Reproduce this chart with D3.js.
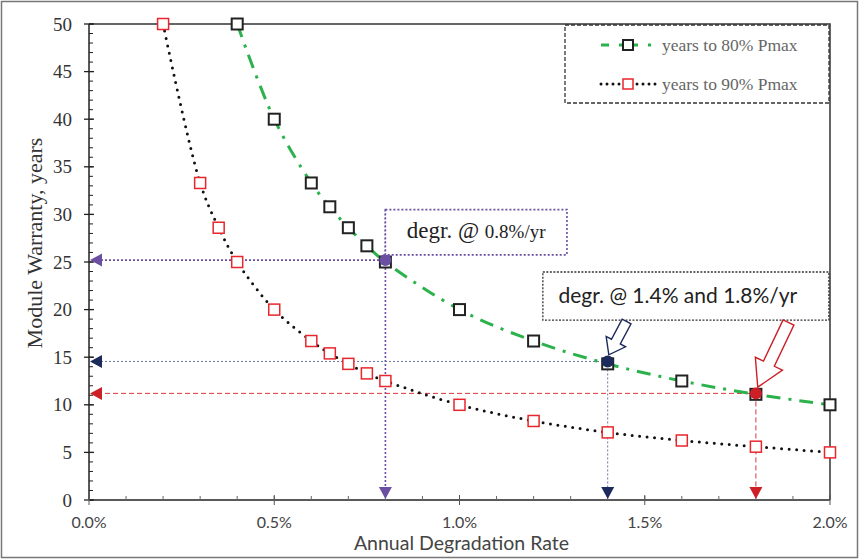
<!DOCTYPE html>
<html>
<head>
<meta charset="utf-8">
<script src="https://cdn.jsdelivr.net/npm/d3@7"></script>
<style>
  body { margin: 0; background: #fff; }
  svg { display: block; }
</style>
</head>
<body>
<svg id="chart" width="859" height="559"></svg>
<script>
// degradation rate (%/yr) and years to reach 80% / 90% of Pmax
var rates80 = [0.4, 0.5, 0.6, 0.65, 0.7, 0.75, 0.8, 1.0, 1.2, 1.4, 1.6, 1.8, 2.0]
var years80 = [50, 40, 33.3, 30.8, 28.6, 26.7, 25, 20, 16.7, 14.3, 12.5, 11.1, 10]
var rates90 = [0.2, 0.3, 0.35, 0.4, 0.5, 0.6, 0.65, 0.7, 0.75, 0.8, 1.0, 1.2, 1.4, 1.6, 1.8, 2.0]
var years90 = [50, 33.3, 28.6, 25, 20, 16.7, 15.4, 14.3, 13.3, 12.5, 10, 8.3, 7.1, 6.25, 5.6, 5]
var xTicks = [0, 0.5, 1.0, 1.5, 2.0]
var yTicks = [0, 5, 10, 15, 20, 25, 30, 35, 40, 45, 50]
// highlighted points: rate, years, colour
var marks = [
  { rate: 0.8, years: 25.2, color: "#6a4fa3", lineColor: "#6a4fa3", dash: "2,2", width: 1.6 },
  { rate: 1.4, years: 14.55, color: "#1d2b5c", lineColor: "#5a6896", dash: "2,2", width: 0.9 },
  { rate: 1.8, years: 11.2, color: "#cc1f26", lineColor: "#d9363c", dash: "5,3", width: 1 }
]

var svg = d3.select("#chart")
var pLeft = 89, pRight = 830, pTop = 24, pBottom = 500

var x = d3.scaleLinear().domain([0, 2.0]).range([pLeft, pRight])
var y = d3.scaleLinear().domain([0, 50]).range([pBottom, pTop])

// outer frame
svg.append("rect").attr("x", 1.5).attr("y", 1.5).attr("width", 856).attr("height", 556)
  .attr("fill", "none").attr("stroke", "#777").attr("stroke-width", 1.5)

// plot frame (top + right)
svg.append("path")
  .attr("d", "M" + pLeft + "," + pTop + "H" + pRight + "V" + pBottom)
  .attr("fill", "none").attr("stroke", "#333").attr("stroke-width", 1.5)

// y axis
var yAxis = svg.append("g").attr("transform", "translate(" + pLeft + ",0)")
yAxis.append("line").attr("y1", pTop).attr("y2", pBottom).attr("stroke", "#222").attr("stroke-width", 1.5)
yAxis.selectAll(".minor").data(d3.range(0, 51)).enter().append("line")
  .attr("x1", 0).attr("x2", 4).attr("y1", function(d) { return y(d) }).attr("y2", function(d) { return y(d) })
  .attr("stroke", "#222").attr("stroke-width", 1)
yAxis.selectAll(".major").data(yTicks).enter().append("line")
  .attr("x1", -5).attr("x2", 5).attr("y1", function(d) { return y(d) }).attr("y2", function(d) { return y(d) })
  .attr("stroke", "#222").attr("stroke-width", 1.3)
yAxis.selectAll("text").data(yTicks).enter().append("text")
  .attr("x", -17).attr("y", function(d) { return y(d) })
  .attr("dy", "0.35em").attr("text-anchor", "end")
  .style("font-family", "'Liberation Serif', serif").style("font-size", "19px").attr("fill", "#333")
  .text(function(d) { return d })

svg.append("text")
  .attr("transform", "translate(42,243) rotate(-90)")
  .attr("text-anchor", "middle")
  .style("font-family", "'Liberation Serif', serif").style("font-size", "22px").attr("fill", "#333")
  .text("Module Warranty, years")

// x axis
var xAxis = svg.append("g").attr("transform", "translate(0," + pBottom + ")")
xAxis.append("line").attr("x1", pLeft).attr("x2", pRight).attr("stroke", "#222").attr("stroke-width", 1.5)
xAxis.selectAll(".minor").data(d3.range(0, 21)).enter().append("line")
  .attr("x1", function(d) { return x(d / 10) }).attr("x2", function(d) { return x(d / 10) })
  .attr("y1", 0).attr("y2", -4).attr("stroke", "#666").attr("stroke-width", 1)
xAxis.selectAll(".major").data(xTicks).enter().append("line")
  .attr("x1", function(d) { return x(d) }).attr("x2", function(d) { return x(d) })
  .attr("y1", -5).attr("y2", 5).attr("stroke", "#555").attr("stroke-width", 1)
xAxis.selectAll("text").data(xTicks).enter().append("text")
  .attr("x", function(d) { return x(d) }).attr("y", 22)
  .attr("dy", "0.35em").attr("text-anchor", "middle")
  .style("font-family", "Lato, sans-serif").style("font-size", "16px").attr("fill", "#444")
  .text(function(d) { return d.toFixed(1) + "%" })

svg.append("text")
  .attr("x", (pLeft + pRight) / 2 + 2).attr("y", 543).attr("dy", "0.35em").attr("text-anchor", "middle")
  .style("font-family", "Lato, sans-serif").style("font-size", "19.5px").attr("fill", "#444")
  .text("Annual Degradation Rate")

// guide lines for the highlighted points
marks.forEach(function(m) {
  var g = svg.append("g")
  g.append("line").attr("x1", x(0) + 8).attr("x2", x(m.rate)).attr("y1", y(m.years)).attr("y2", y(m.years))
    .attr("stroke", m.lineColor).attr("stroke-width", m.width).attr("stroke-dasharray", m.dash)
  g.append("line").attr("x1", x(m.rate)).attr("x2", x(m.rate)).attr("y1", y(m.years)).attr("y2", y(0) - 8)
    .attr("stroke", m.lineColor).attr("stroke-width", m.width).attr("stroke-dasharray", m.dash)
  // triangles on the axes
  var tx = x(0), ty = y(m.years)
  g.append("path").attr("d", "M" + (tx + 1) + "," + ty + "L" + (tx + 13) + "," + (ty - 6.5) + "L" + (tx + 13) + "," + (ty + 6.5) + "Z")
    .attr("fill", m.color)
  var bx = x(m.rate), by = y(0)
  g.append("path").attr("d", "M" + bx + "," + (by - 1) + "L" + (bx - 6.5) + "," + (by - 13) + "L" + (bx + 6.5) + "," + (by - 13) + "Z")
    .attr("fill", m.color)
})
// purple vertical continues up to the note box
svg.append("line").attr("x1", x(0.8)).attr("x2", x(0.8)).attr("y1", y(30.5)).attr("y2", y(25.2))
  .attr("stroke", marks[0].color).attr("stroke-width", 1.6).attr("stroke-dasharray", "2,2")

// curves
var line = d3.line().curve(d3.curveCatmullRom.alpha(0.5))
  .x(function(d) { return x(d[0]) }).y(function(d) { return y(d[1]) })

var pts80 = d3.zip(rates80, years80)
var pts90 = d3.zip(rates90, years90)

svg.append("path").datum(pts90).attr("d", line)
  .attr("fill", "none").attr("stroke", "#111").attr("stroke-width", 3)
  .attr("stroke-linecap", "round").attr("stroke-dasharray", "0,7.5")

svg.append("path").datum(pts80).attr("d", line)
  .attr("fill", "none").attr("stroke", "#2bb24c").attr("stroke-width", 3)
  .attr("stroke-dasharray", "14,8,3,8")

// markers
var sq = 11
svg.selectAll(".m90").data(pts90).enter().append("rect")
  .attr("x", function(d) { return x(d[0]) - sq / 2 }).attr("y", function(d) { return y(d[1]) - sq / 2 })
  .attr("width", sq).attr("height", sq).attr("fill", "#fff").attr("stroke", "#e8262d").attr("stroke-width", 1.5)
svg.selectAll(".m80").data(pts80).enter().append("rect")
  .attr("x", function(d) { return x(d[0]) - sq / 2 }).attr("y", function(d) { return y(d[1]) - sq / 2 })
  .attr("width", sq).attr("height", sq).attr("fill", "#fff").attr("stroke", "#222").attr("stroke-width", 2)

// highlighted points
svg.selectAll(".hl").data(marks).enter().append("circle")
  .attr("cx", function(d) { return x(d.rate) }).attr("cy", function(d) { return y(d.years) })
  .attr("r", 6).attr("fill", function(d) { return d.color })

// note boxes
svg.append("rect").attr("x", x(0.8)).attr("y", y(30.5)).attr("width", x(1.29) - x(0.8)).attr("height", y(25.75) - y(30.5))
  .attr("fill", "#fff").attr("stroke", "#6a4fa3").attr("stroke-width", 1.6).attr("stroke-dasharray", "2,2")
var note1 = svg.append("text").attr("x", (x(0.8) + x(1.29)) / 2).attr("y", y(28.1)).attr("dy", "0.35em").attr("text-anchor", "middle")
  .style("font-family", "'Liberation Serif', serif").attr("fill", "#222")
note1.append("tspan").style("font-size", "23px").text("degr. @ ")
note1.append("tspan").style("font-size", "19px").text("0.8%/yr")

svg.append("rect").attr("x", x(1.225)).attr("y", y(23.95)).attr("width", x(1.997) - x(1.225)).attr("height", y(18.9) - y(23.95))
  .attr("fill", "#fff").attr("stroke", "#333").attr("stroke-width", 1.3).attr("stroke-dasharray", "2,1.5")
svg.append("text").attr("x", (x(1.225) + x(1.997)) / 2 - 8).attr("y", y(21.5)).attr("dy", "0.35em").attr("text-anchor", "middle")
  .style("font-family", "Lato, sans-serif").style("font-size", "21px").attr("fill", "#222")
  .text("degr. @ 1.4% and 1.8%/yr")

// block arrows from the box to the points
function blockArrow(x1, y1, x2, y2, shaft, head, hl) {
  var dx = x2 - x1, dy = y2 - y1, len = Math.sqrt(dx * dx + dy * dy)
  var ux = dx / len, uy = dy / len, nx = -uy, ny = ux
  var bx = x2 - ux * hl, by = y2 - uy * hl
  var p = [
    [x1 + nx * shaft, y1 + ny * shaft], [bx + nx * shaft, by + ny * shaft], [bx + nx * head, by + ny * head],
    [x2, y2], [bx - nx * head, by - ny * head], [bx - nx * shaft, by - ny * shaft], [x1 - nx * shaft, y1 - ny * shaft]
  ]
  return "M" + p.map(function(q) { return q[0] + "," + q[1] }).join("L") + "Z"
}
svg.append("path").attr("d", blockArrow(x(1.451), y(18.75), x(1.403), y(15.25), 5, 11, 15))
  .attr("fill", "#fff").attr("stroke", "#1d2b5c").attr("stroke-width", 1.4)
svg.append("path").attr("d", blockArrow(x(1.888), y(18.65), x(1.805), y(11.85), 6, 15, 26))
  .attr("fill", "#fff").attr("stroke", "#cc1f26").attr("stroke-width", 1.4)

// legend
var lg = svg.append("g")
lg.append("rect").attr("x", 565).attr("y", 25).attr("width", 264).attr("height", 78)
  .attr("fill", "#fff").attr("stroke", "#333").attr("stroke-width", 1.3).attr("stroke-dasharray", "4,2")
lg.append("line").attr("x1", 601).attr("x2", 655).attr("y1", 45).attr("y2", 45)
  .attr("stroke", "#2bb24c").attr("stroke-width", 3).attr("stroke-dasharray", "8,10,3,8")
lg.append("rect").attr("x", 628 - 5).attr("y", 45 - 5).attr("width", 10).attr("height", 10)
  .attr("fill", "#fff").attr("stroke", "#222").attr("stroke-width", 2)
lg.append("line").attr("x1", 601).attr("x2", 656).attr("y1", 84).attr("y2", 84)
  .attr("stroke", "#111").attr("stroke-width", 3).attr("stroke-linecap", "round").attr("stroke-dasharray", "0,6")
lg.append("rect").attr("x", 628 - 5).attr("y", 84 - 5).attr("width", 10).attr("height", 10)
  .attr("fill", "#fff").attr("stroke", "#e8262d").attr("stroke-width", 1.5)
lg.selectAll("text").data(["years to 80% Pmax", "years to 90% Pmax"]).enter().append("text")
  .attr("x", 662).attr("y", function(d, i) { return i ? 84 : 45 }).attr("dy", "0.35em")
  .style("font-family", "'Liberation Serif', serif").style("font-size", "17.5px").attr("fill", "#666")
  .text(function(d) { return d })
</script>
</body>
</html>
